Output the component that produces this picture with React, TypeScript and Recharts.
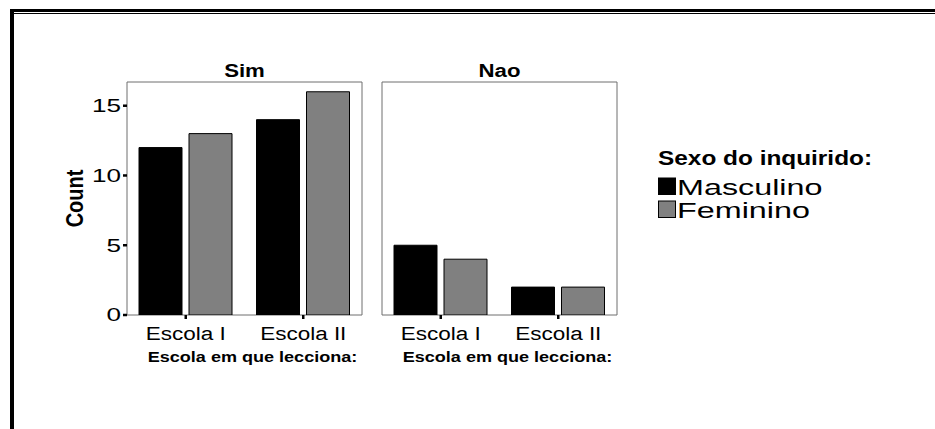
import React from 'react';
import { BarChart, Bar, XAxis, YAxis, ReferenceArea, Legend } from 'recharts';

const FONT = '"Liberation Sans", Arial, Helvetica, sans-serif';

const categories = ['Escola I', 'Escola II'];
const panelTitles = ['Sim', 'Nao'];
const seriesNames = ['Masculino', 'Feminino'];
const seriesColors = ['#000000', '#808080'];
const simMasculino = [12, 14];
const simFeminino = [13, 16];
const naoMasculino = [5, 2];
const naoFeminino = [4, 2];
const yTicks = [0, 5, 10, 15];
const yMax = 16.7;
const yAxisTitle = 'Count';
const xAxisTitle = 'Escola em que lecciona:';
const legendTitle = 'Sexo do inquirido:';

const buildData = (m: number[], f: number[]) =>
  categories.map((c, i) => ({ cat: c, [seriesNames[0]]: m[i], [seriesNames[1]]: f[i] }));

const simData = buildData(simMasculino, simFeminino);
const naoData = buildData(naoMasculino, naoFeminino);

function SText(props: any) {
  const { x, y, sx = 1, sy = 1, rotate = 0, anchor = 'middle', size, weight = 'normal', children } = props;
  return (
    <text
      transform={`translate(${x},${y}) rotate(${rotate}) scale(${sx},${sy})`}
      textAnchor={anchor}
      fontSize={size}
      fontWeight={weight}
      fontFamily={FONT}
      fill="#000"
    >
      {children}
    </text>
  );
}

const YTick = (props: any) => {
  const { x, y, payload } = props;
  return (
    <g>
      <text
        transform={`translate(${x},${y}) scale(1.45,1)`}
        textAnchor="end"
        dy="0.355em"
        fontSize={18}
        fontFamily={FONT}
        fill="#000"
      >
        {payload.value}
      </text>
    </g>
  );
};

const XTick = (props: any) => {
  const { x, y, payload } = props;
  return (
    <g>
      <SText x={x} y={y + 19} sx={1.25} size={18}>
        {payload.value}
      </SText>
    </g>
  );
};

const xTitle = (props: any) => {
  const vb = props.viewBox || {};
  return (
    <SText x={vb.x + vb.width / 2 + 8} y={vb.y + 47} sx={1.29} size={14} weight="bold">
      {xAxisTitle}
    </SText>
  );
};

const makePanelTitle = (title: string) => (props: any) => {
  const vb = props.viewBox || {};
  return (
    <SText x={vb.x + vb.width / 2} y={vb.y - 5.5} sx={1.2} size={18.5} weight="bold">
      {title}
    </SText>
  );
};

const yTitle = (props: any) => {
  const vb = props.viewBox || {};
  return (
    <SText x={83} y={vb.y + vb.height / 2} rotate={-90} sy={1.16} size={20} weight="bold">
      {yAxisTitle}
    </SText>
  );
};

const LegendContent = (props: any) => {
  const payload = props.payload || [];
  const items = seriesNames.map((name, i) => {
    const p = payload.find((e: any) => e.value === name || e.dataKey === name);
    return { name, color: (p && p.color) || seriesColors[i] };
  });
  return (
    <svg width={240} height={90} style={{ display: 'block' }}>
      <SText x={2} y={25} anchor="start" sx={1.22} size={20} weight="bold">
        {legendTitle}
      </SText>
      {items.map((p, i) => (
        <g key={p.name}>
          <rect x={2.5} y={38 + i * 23} width={17} height={16.5} fill={p.color} stroke="#000" strokeWidth={1} />
          <SText x={21} y={54.5 + i * 23} anchor="start" sx={1.47} size={22}>
            {p.name}
          </SText>
        </g>
      ))}
    </svg>
  );
};

function Panel(props: any) {
  const { data, title, width, marginRight, yAxisWidth, showYLabels, legend } = props;
  return (
    <BarChart
      width={width}
      height={429}
      data={data}
      margin={{ top: 82, right: marginRight, bottom: 74, left: 0 }}
      barCategoryGap={12}
      barGap={7}
    >
      <XAxis
        dataKey="cat"
        height={40}
        axisLine={false}
        tickLine={{ stroke: '#000', strokeWidth: 2.5 }}
        tickSize={4}
        tick={<XTick />}
        interval={0}
        label={xTitle}
      />
      <YAxis
        width={yAxisWidth}
        domain={[0, yMax]}
        ticks={yTicks}
        axisLine={false}
        tickLine={{ stroke: '#000', strokeWidth: 2.5 }}
        tickSize={4}
        tick={showYLabels ? <YTick /> : false}
        label={showYLabels ? yTitle : undefined}
        allowDataOverflow
      />
      {seriesNames.map((s, i) => (
        <Bar
          key={s}
          dataKey={s}
          fill={seriesColors[i]}
          stroke="#000"
          strokeWidth={1}
          isAnimationActive={false}
        />
      ))}
      <ReferenceArea
        y1={0}
        y2={yMax}
        fill="none"
        fillOpacity={0}
        stroke="#6e6e6e"
        strokeWidth={1}
        ifOverflow="visible"
        label={makePanelTitle(title)}
      />
      {legend ? (
        <Legend
          layout="horizontal"
          verticalAlign="middle"
          align="center"
          content={<LegendContent />}
          wrapperStyle={{ position: 'absolute', left: 286, top: 140, width: 240, height: 90 }}
        />
      ) : null}
    </BarChart>
  );
}

export default function App() {
  return (
    <div
      style={{
        position: 'absolute',
        left: 0,
        top: 0,
        width: 935,
        height: 429,
        background: '#fff',
        overflow: 'hidden',
        fontFamily: FONT,
      }}
    >
      <div style={{ position: 'absolute', left: 10, top: 9, width: 925, height: 3, background: '#000' }} />
      <div style={{ position: 'absolute', left: 14, top: 13, width: 921, height: 1, background: '#000' }} />
      <div style={{ position: 'absolute', left: 10, top: 9, width: 4, height: 420, background: '#000' }} />
      <div style={{ position: 'absolute', left: 0, top: 0 }}>
        <Panel data={simData} title={panelTitles[0]} width={370} marginRight={8} yAxisWidth={127} showYLabels />
      </div>
      <div style={{ position: 'absolute', left: 370, top: 0 }}>
        <Panel
          data={naoData}
          title={panelTitles[1]}
          width={565}
          marginRight={318}
          yAxisWidth={12}
          showYLabels={false}
          legend
        />
      </div>
    </div>
  );
}
